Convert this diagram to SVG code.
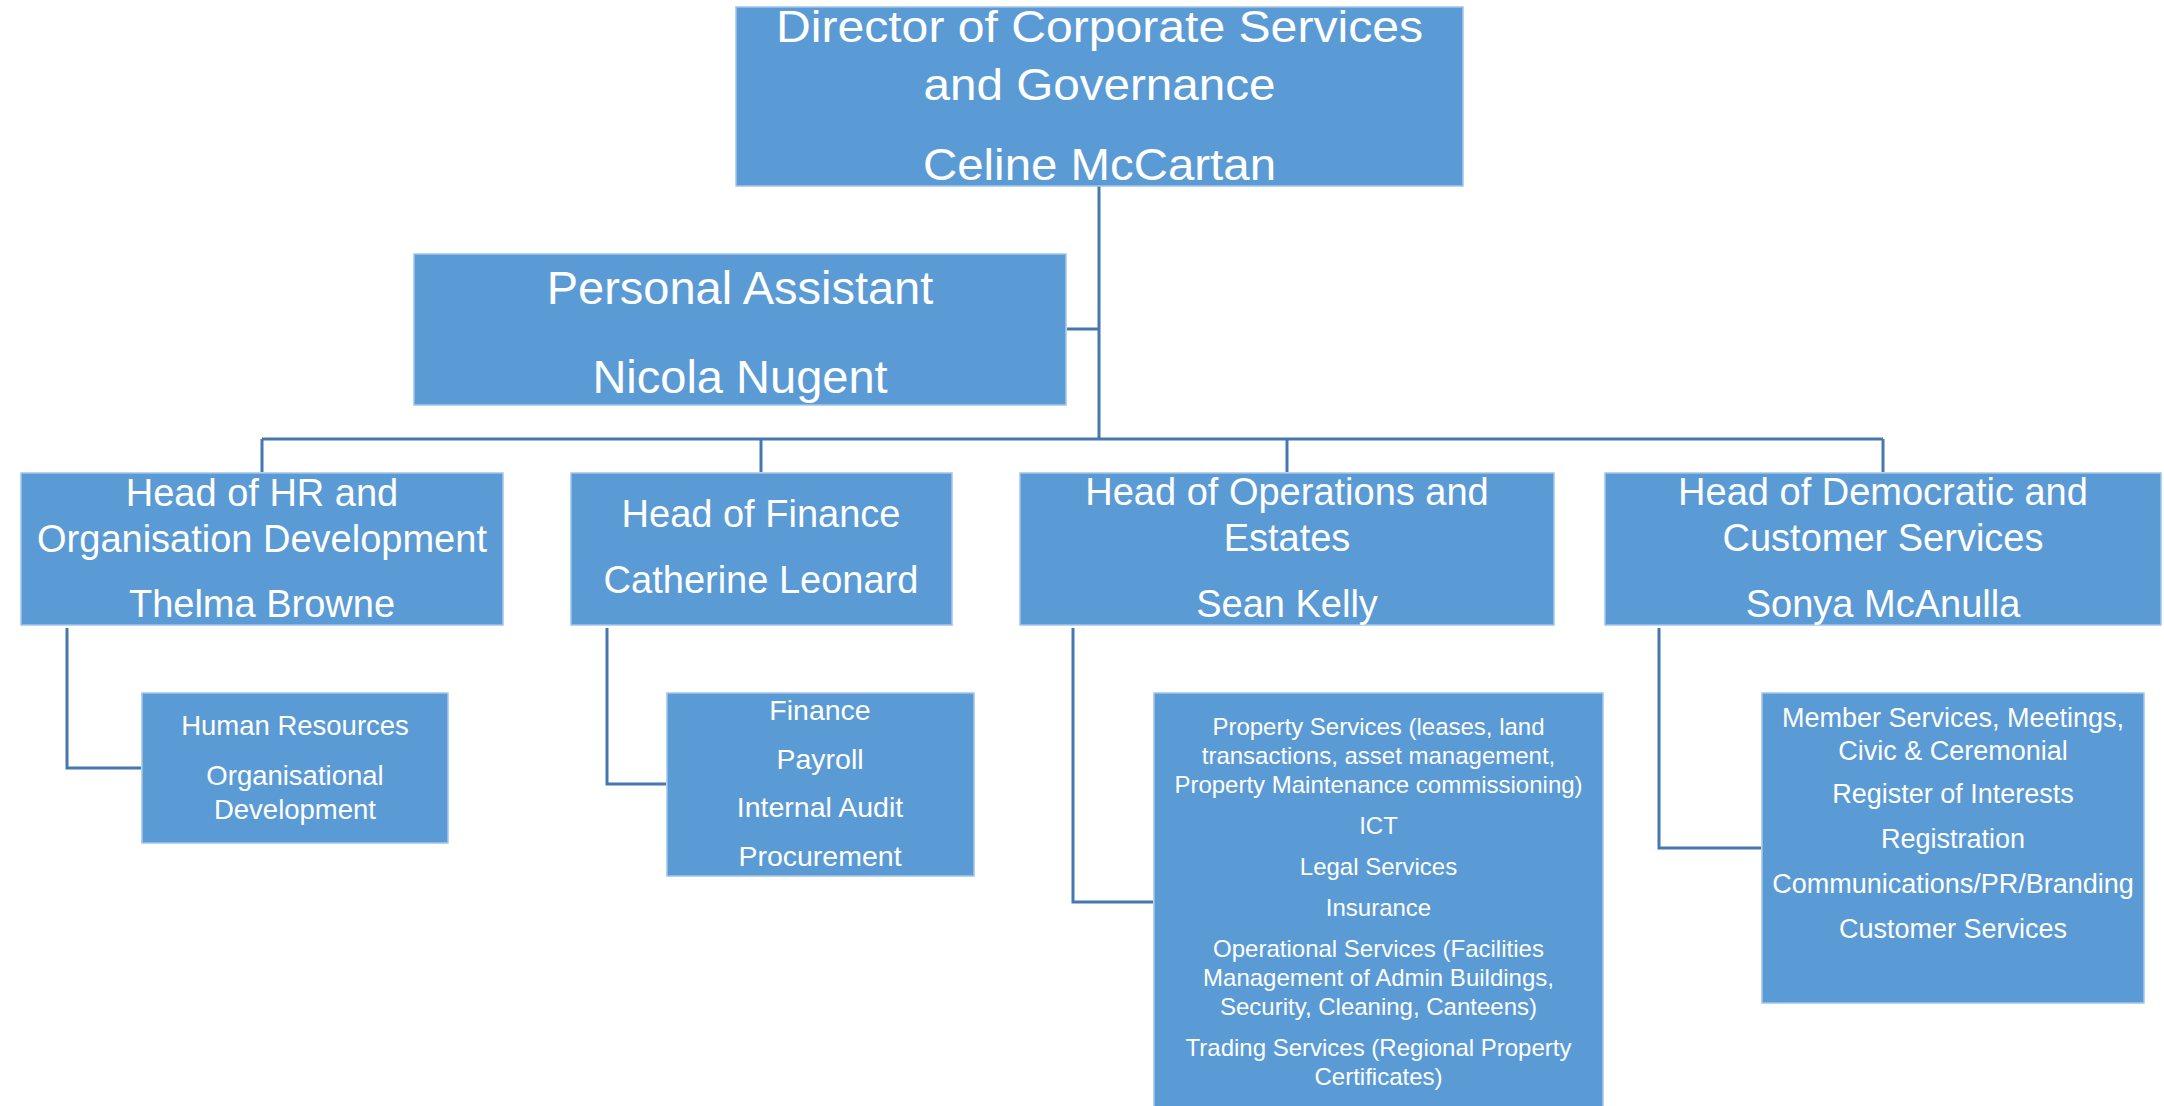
<svg xmlns="http://www.w3.org/2000/svg" width="2164" height="1106" viewBox="0 0 2164 1106">
<style>
.box{fill:#5B9BD5;stroke:#A3C4E8;stroke-width:1.5}
text{font-family:"Liberation Sans",Arial,sans-serif;fill:#FFFFFF;text-anchor:middle}
.dir{font-size:44px}
.pa{font-size:47px}
.head{font-size:38px}
.s1{font-size:27.5px}
.s2{font-size:28.5px}
.s3{font-size:24px}
.s4{font-size:27px}
.conn{fill:none;stroke:#4677B0;stroke-width:3}
</style>
<rect width="2164" height="1106" fill="#FFFFFF"/>
<g id="connectors">
<path class="conn" d="M1099,186 V439"/>
<path class="conn" d="M1067,329 H1099"/>
<path class="conn" d="M262,439 H1883"/>
<path class="conn" d="M262,439 V472"/>
<path class="conn" d="M761,439 V472"/>
<path class="conn" d="M1287,439 V472"/>
<path class="conn" d="M1883,439 V472"/>
<path class="conn" d="M67,628 V768 H141"/>
<path class="conn" d="M607,628 V784 H666"/>
<path class="conn" d="M1073,628 V902 H1153"/>
<path class="conn" d="M1659,628 V848 H1761"/>
</g>
<g id="director">
<rect class="box" x="736" y="7" width="727" height="179"/>
<text class="dir" x="1099.5" y="42" textLength="647" lengthAdjust="spacingAndGlyphs">Director of Corporate Services</text>
<text class="dir" x="1099.5" y="100" textLength="352" lengthAdjust="spacingAndGlyphs">and Governance</text>
<text class="dir" x="1099.5" y="180" textLength="353" lengthAdjust="spacingAndGlyphs">Celine McCartan</text>
</g>
<g id="pa">
<rect class="box" x="414" y="254" width="652" height="151"/>
<text class="pa" x="740" y="304">Personal Assistant</text>
<text class="pa" x="740" y="393">Nicola Nugent</text>
</g>
<g id="head-hr">
<rect class="box" x="21" y="473" width="482" height="152"/>
<text class="head" x="262" y="506">Head of HR and</text>
<text class="head" x="262" y="551.5">Organisation Development</text>
<text class="head" x="262" y="617">Thelma Browne</text>
</g>
<g id="head-finance">
<rect class="box" x="571" y="473" width="381" height="152"/>
<text class="head" x="761" y="527">Head of Finance</text>
<text class="head" x="761" y="593">Catherine Leonard</text>
</g>
<g id="head-ops">
<rect class="box" x="1020" y="473" width="534" height="152"/>
<text class="head" x="1287" y="505">Head of Operations and</text>
<text class="head" x="1287" y="551">Estates</text>
<text class="head" x="1287" y="617">Sean Kelly</text>
</g>
<g id="head-dem">
<rect class="box" x="1605" y="473" width="556" height="152"/>
<text class="head" x="1883" y="505">Head of Democratic and</text>
<text class="head" x="1883" y="551">Customer Services</text>
<text class="head" x="1883" y="617">Sonya McAnulla</text>
</g>
<g id="sub-hr">
<rect class="box" x="142" y="693" width="306" height="150"/>
<text class="s1" x="295" y="735">Human Resources</text>
<text class="s1" x="295" y="785">Organisational</text>
<text class="s1" x="295" y="819">Development</text>
</g>
<g id="sub-finance">
<rect class="box" x="667" y="693" width="307" height="183"/>
<text class="s2" x="820" y="720">Finance</text>
<text class="s2" x="820" y="769">Payroll</text>
<text class="s2" x="820" y="817">Internal Audit</text>
<text class="s2" x="820" y="866">Procurement</text>
</g>
<g id="sub-ops">
<rect class="box" x="1154" y="693" width="449" height="420"/>
<text class="s3" x="1378.5" y="735">Property Services (leases, land</text>
<text class="s3" x="1378.5" y="764">transactions, asset management,</text>
<text class="s3" x="1378.5" y="793">Property Maintenance commissioning)</text>
<text class="s3" x="1378.5" y="834">ICT</text>
<text class="s3" x="1378.5" y="875">Legal Services</text>
<text class="s3" x="1378.5" y="915.5">Insurance</text>
<text class="s3" x="1378.5" y="956.5">Operational Services (Facilities</text>
<text class="s3" x="1378.5" y="985.5">Management of Admin Buildings,</text>
<text class="s3" x="1378.5" y="1014.5">Security, Cleaning, Canteens)</text>
<text class="s3" x="1378.5" y="1055.5">Trading Services (Regional Property</text>
<text class="s3" x="1378.5" y="1085">Certificates)</text>
</g>
<g id="sub-dem">
<rect class="box" x="1762" y="693" width="382" height="310"/>
<text class="s4" x="1953" y="726.5">Member Services, Meetings,</text>
<text class="s4" x="1953" y="760">Civic &amp; Ceremonial</text>
<text class="s4" x="1953" y="803">Register of Interests</text>
<text class="s4" x="1953" y="848">Registration</text>
<text class="s4" x="1953" y="893">Communications/PR/Branding</text>
<text class="s4" x="1953" y="938">Customer Services</text>
</g>
</svg>
